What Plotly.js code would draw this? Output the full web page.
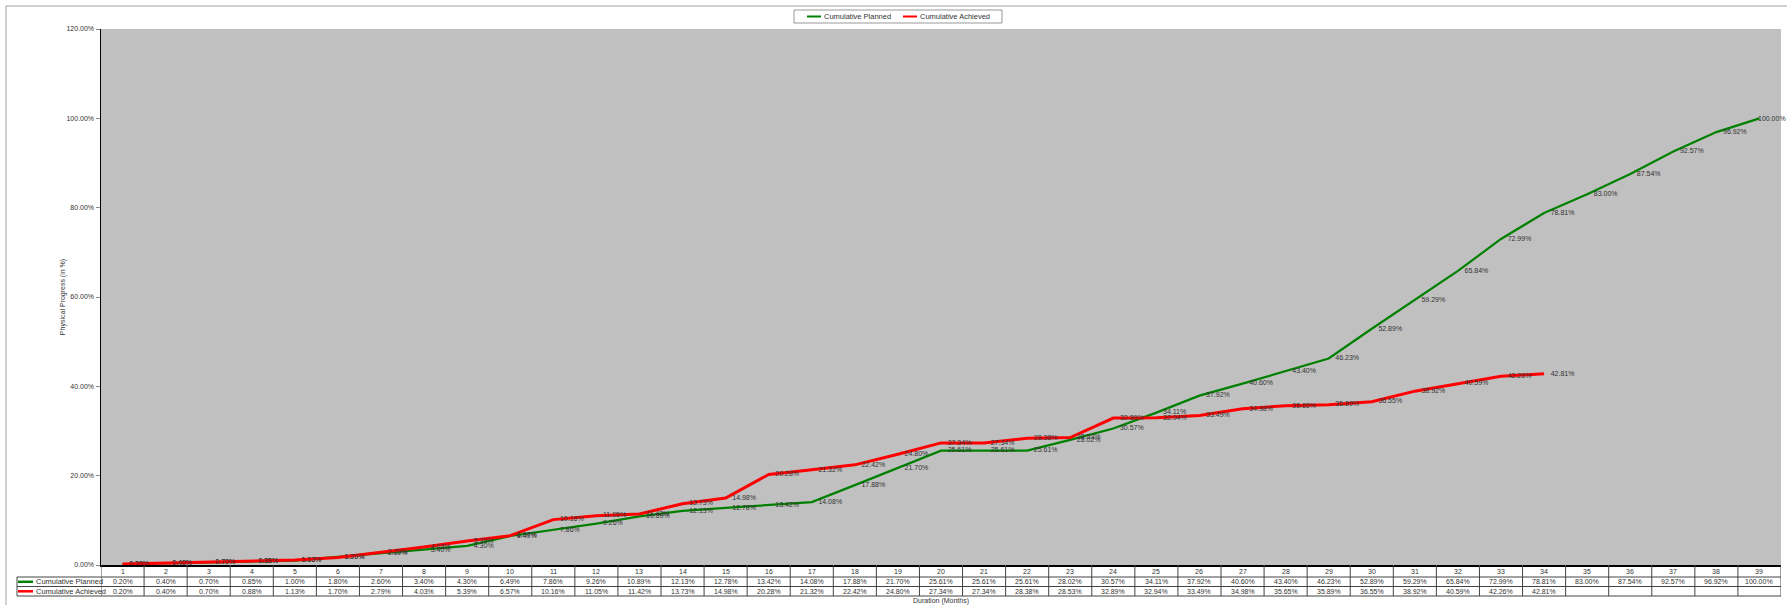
<!DOCTYPE html>
<html>
<head>
<meta charset="utf-8">
<script src="https://cdn.plot.ly/plotly-3.0.1.min.js"></script>
<style>html,body{margin:0;padding:0;background:#fff;}#chart{width:1787px;height:605px;}</style>
</head>
<body>
<div id="chart"></div>
<script>
const months = [1,2,3,4,5,6,7,8,9,10,11,12,13,14,15,16,17,18,19,20,21,22,23,24,25,26,27,28,29,30,31,32,33,34,35,36,37,38,39];
const planned = [0.20,0.40,0.70,0.85,1.00,1.80,2.60,3.40,4.30,6.49,7.86,9.26,10.89,12.13,12.78,13.42,14.08,17.88,21.70,25.61,25.61,25.61,28.02,30.57,34.11,37.92,40.60,43.40,46.23,52.89,59.29,65.84,72.99,78.81,83.00,87.54,92.57,96.92,100.00];
const achieved = [0.20,0.40,0.70,0.88,1.13,1.70,2.79,4.03,5.39,6.57,10.16,11.05,11.42,13.73,14.98,20.28,21.32,22.42,24.80,27.34,27.34,28.38,28.53,32.89,32.94,33.49,34.98,35.65,35.89,36.55,38.92,40.59,42.26,42.81];
const seriesNames = ['Cumulative Planned','Cumulative Achieved'];
const seriesColors = ['#008000','#FF0000'];
const yTicks = [0,20,40,60,80,100,120];

const W = 1787, H = 605;
const L = 101, R = 1781, T = 29, B = 565;
const ph = B - T, pw = R - L;
const py = p => (B - p) / ph;          // pixel y -> paper y
const pxp = p => (p - L) / pw;         // pixel x -> paper x
const FONT = 'Liberation Sans, Arial, sans-serif';
const TXT = '#333333';
const fmt = v => v.toFixed(2) + '%';
const lastP = planned.length - 1;

const traces = [
  {x: months.slice(0, planned.length), y: planned, name: seriesNames[0], mode: 'lines+markers+text',
   line: {color: seriesColors[0], width: 2.2}, marker: {size: 9, opacity: 0, color: seriesColors[0]},
   text: planned.map((v, i) => i === lastP ? '' : fmt(v)), textposition: 'middle right',
   textfont: {size: 7, color: TXT, family: FONT}, cliponaxis: false, hoverinfo: 'x+y'},
  {x: months.slice(0, achieved.length), y: achieved, name: seriesNames[1], mode: 'lines+markers+text',
   line: {color: seriesColors[1], width: 3}, marker: {size: 9, opacity: 0, color: seriesColors[1]},
   text: achieved.map(fmt), textposition: 'middle right',
   textfont: {size: 7, color: TXT, family: FONT}, cliponaxis: false, hoverinfo: 'x+y'}
];

const shapes = [];
const annotations = [];
// last planned label, squeezed inside the chart edge like the original
annotations.push({xref: 'x', yref: 'y', x: months[lastP], y: planned[lastP], xanchor: 'left', yanchor: 'middle',
  xshift: -3, text: fmt(planned[lastP]), showarrow: false, font: {size: 7, color: TXT, family: FONT}});
const rowLines = [577, 586.5, 596];
// outer frame
shapes.push({type: 'rect', xref: 'paper', yref: 'paper', x0: pxp(6), x1: pxp(1795), y0: py(612), y1: py(6),
  line: {color: '#A0A0A0', width: 1}, fillcolor: 'rgba(0,0,0,0)', layer: 'below'});
// top legend box
shapes.push({type: 'rect', xref: 'paper', yref: 'paper', x0: pxp(794), x1: pxp(1002), y0: py(23), y1: py(10),
  line: {color: '#999999', width: 1}, fillcolor: '#FFFFFF'});
const legKeyX = [807, 903];
seriesNames.forEach((n, k) => {
  shapes.push({type: 'line', xref: 'paper', yref: 'paper', x0: pxp(legKeyX[k]), x1: pxp(legKeyX[k] + 14), y0: py(16.5), y1: py(16.5),
    line: {color: seriesColors[k], width: 2}});
  annotations.push({xref: 'paper', yref: 'paper', x: pxp(legKeyX[k] + 14.5), y: py(16.5), xanchor: 'left', yanchor: 'middle',
    text: n, showarrow: false, font: {size: 7.5, color: TXT, family: FONT}});
});
// horizontal table lines
rowLines.forEach(r => shapes.push({type: 'line', xref: 'paper', yref: 'paper', x0: pxp(17), x1: 1, y0: py(r), y1: py(r),
  line: {color: '#444', width: 1}}));
// label column left border
shapes.push({type: 'line', xref: 'paper', yref: 'paper', x0: pxp(17), x1: pxp(17), y0: py(577), y1: py(596),
  line: {color: '#444', width: 1}});
// vertical cell lines
for (let i = 0; i <= months.length; i++) {
  shapes.push({type: 'line', xref: 'x', yref: 'paper', x0: i + 0.5, x1: i + 0.5, y0: 0, y1: py(596),
    line: {color: '#444', width: 1}});
}
// legend keys in table
const rowCenters = [581.8, 591.3];
seriesNames.forEach((n, k) => {
  shapes.push({type: 'line', xref: 'paper', yref: 'paper', x0: pxp(18), x1: pxp(33), y0: py(rowCenters[k]), y1: py(rowCenters[k]),
    line: {color: seriesColors[k], width: 2.5}});
  annotations.push({xref: 'paper', yref: 'paper', x: pxp(33.5), y: py(rowCenters[k]), xanchor: 'left', yanchor: 'middle',
    text: n, showarrow: false, font: {size: 7.5, color: TXT, family: FONT}});
});
// table values
[planned, achieved].forEach((arr, k) => {
  arr.forEach((v, i) => {
    annotations.push({xref: 'x', yref: 'paper', x: months[i], y: py(rowCenters[k]), xanchor: 'center', yanchor: 'middle',
      text: fmt(v), showarrow: false, font: {size: 7, color: TXT, family: FONT}});
  });
});
// month header row
months.forEach(m => annotations.push({xref: 'x', yref: 'paper', x: m, y: py(571.5), xanchor: 'center', yanchor: 'middle',
  text: String(m), showarrow: false, font: {size: 7, color: TXT, family: FONT}}));
// x axis title
annotations.push({xref: 'paper', yref: 'paper', x: 0.5, y: py(601), xanchor: 'center', yanchor: 'middle',
  text: 'Duration (Months)', showarrow: false, font: {size: 7, color: TXT, family: FONT}});

const layout = {
  width: W, height: H,
  margin: {l: L, r: W - R, t: T, b: H - B, pad: 0},
  paper_bgcolor: '#FFFFFF', plot_bgcolor: '#C0C0C0',
  font: {family: FONT, size: 7, color: TXT},
  showlegend: false,
  xaxis: {type: 'linear', range: [0.5, 39.5], showgrid: false, zeroline: false, showticklabels: false,
    ticks: '', showline: true, linecolor: '#000', linewidth: 1.5, fixedrange: true},
  yaxis: {range: [0, 120], tickvals: yTicks, ticktext: yTicks.map(fmt),
    showgrid: false, zeroline: false, ticks: 'outside', ticklen: 4, tickcolor: '#888', tickwidth: 1,
    showline: true, linecolor: '#000', linewidth: 1.5, tickfont: {size: 7, color: TXT, family: FONT},
    title: {text: 'Physical Progress (in %)', font: {size: 7, color: TXT, family: FONT}, standoff: 0},
    automargin: false, fixedrange: true},
  shapes: shapes, annotations: annotations
};

Plotly.newPlot('chart', traces, layout, {displayModeBar: false, staticPlot: true});
</script>
</body>
</html>
